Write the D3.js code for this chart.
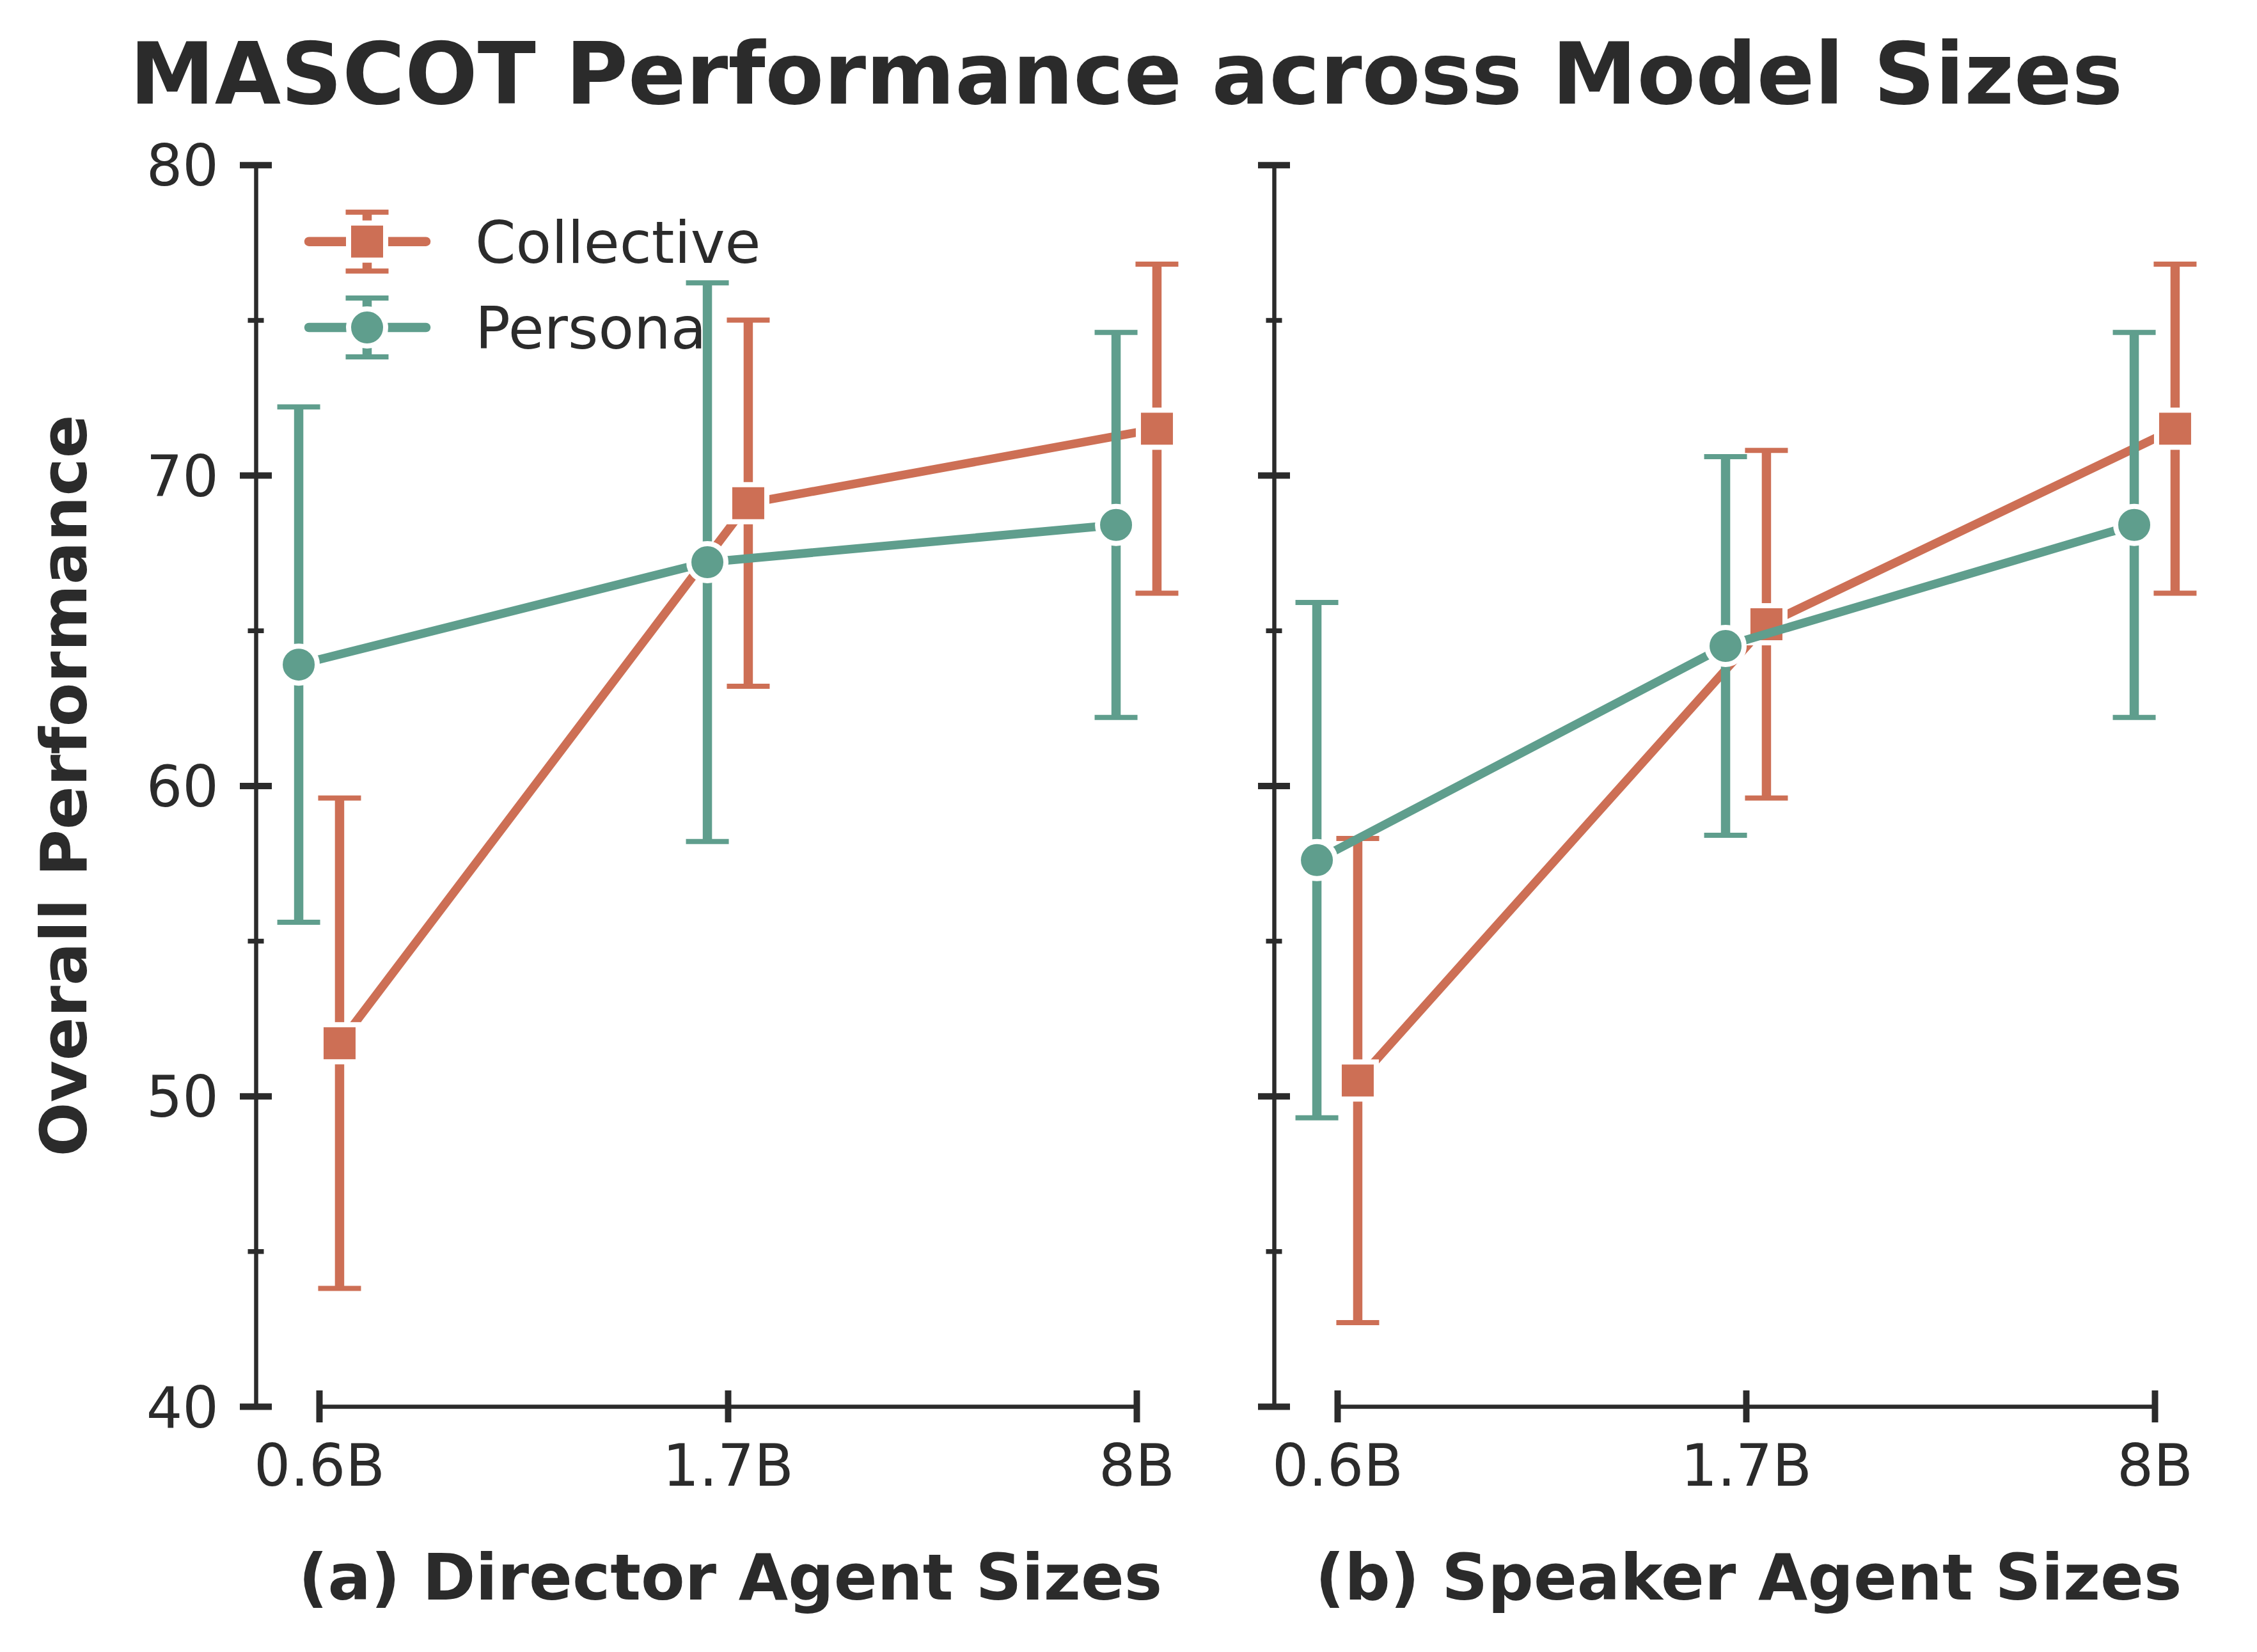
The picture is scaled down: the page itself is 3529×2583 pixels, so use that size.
<!DOCTYPE html>
<html>
<head>
<meta charset="utf-8">
<script src="https://cdn.jsdelivr.net/npm/d3@7"></script>
<style>
  html, body { margin: 0; padding: 0; background: #ffffff; }
  svg { display: block; }
  text { font-family: "DejaVu Sans", sans-serif; fill: #2b2b2b; }
</style>
</head>
<body>
<script>
// ---------------- data ----------------
const categories = ["0.6B", "1.7B", "8B"];
const seriesNames = ["Collective", "Persona"];
const yTicksMajor = [40, 50, 60, 70, 80];
const yTicksMinor = [45, 55, 65, 75];
const titleText = "MASCOT Performance across Model Sizes";
const yLabelText = "Overall Performance";
const panelLabels = ["(a) Director Agent Sizes", "(b) Speaker Agent Sizes"];

// (a) Director agent sizes
const directorCollectiveMean = [51.7, 69.1, 71.5];
const directorCollectiveLow  = [43.8, 63.2, 66.2];
const directorCollectiveHigh = [59.6, 75.0, 76.8];
const directorPersonaMean = [63.9, 67.2, 68.4];
const directorPersonaLow  = [55.6, 58.2, 62.2];
const directorPersonaHigh = [72.2, 76.2, 74.6];

// (b) Speaker agent sizes
const speakerCollectiveMean = [50.5, 65.2, 71.5];
const speakerCollectiveLow  = [42.7, 59.6, 66.2];
const speakerCollectiveHigh = [58.3, 70.8, 76.8];
const speakerPersonaMean = [57.6, 64.5, 68.4];
const speakerPersonaLow  = [49.3, 58.4, 62.2];
const speakerPersonaHigh = [65.9, 70.6, 74.6];

// ---------------- style ----------------
const W = 3529, H = 2583;
const colors = { Collective: "#cd6f55", Persona: "#5f9e8d" };
const shapes = { Collective: "square", Persona: "circle" };
const dodge = { Collective: 0.05, Persona: -0.05 };
const textColor = "#2b2b2b";

const panels = [
  { label: panelLabels[0], axisX: 400, xRange: [499, 1777],
    series: [
      { name: "Collective", mean: directorCollectiveMean, low: directorCollectiveLow, high: directorCollectiveHigh },
      { name: "Persona", mean: directorPersonaMean, low: directorPersonaLow, high: directorPersonaHigh }
    ] },
  { label: panelLabels[1], axisX: 1992, xRange: [2091, 3369],
    series: [
      { name: "Collective", mean: speakerCollectiveMean, low: speakerCollectiveLow, high: speakerCollectiveHigh },
      { name: "Persona", mean: speakerPersonaMean, low: speakerPersonaLow, high: speakerPersonaHigh }
    ] }
];

const svg = d3.select("body").append("svg")
  .attr("width", W).attr("height", H)
  .attr("viewBox", `0 0 ${W} ${H}`);

svg.append("rect").attr("width", W).attr("height", H).attr("fill", "#fff");

const y = d3.scaleLinear().domain([40, 80]).range([2199, 257.8]);

// title
svg.append("text")
  .attr("x", 1761).attr("y", 162)
  .attr("text-anchor", "middle")
  .attr("font-size", 133.5).attr("font-weight", "bold")
  .text(titleText);

// y label
svg.append("text")
  .attr("transform", `translate(135,${(y(40) + y(80)) / 2}) rotate(-90)`)
  .attr("text-anchor", "middle")
  .attr("font-size", 100).attr("font-weight", "bold")
  .text(yLabelText);

function drawMarker(g, shape, cx, cy, color) {
  if (shape === "square") {
    g.append("rect")
      .attr("x", cx - 29).attr("y", cy - 29)
      .attr("width", 58).attr("height", 58)
      .attr("fill", color).attr("stroke", "#fff").attr("stroke-width", 8);
  } else {
    g.append("circle")
      .attr("cx", cx).attr("cy", cy).attr("r", 29)
      .attr("fill", color).attr("stroke", "#fff").attr("stroke-width", 8);
  }
}

function drawErrorBar(g, cx, yLo, yHi, color, capW) {
  g.append("line")
    .attr("x1", cx).attr("x2", cx).attr("y1", yLo).attr("y2", yHi)
    .attr("stroke", color).attr("stroke-width", 14.5);
  [yLo, yHi].forEach(v => {
    g.append("line")
      .attr("x1", cx - capW / 2).attr("x2", cx + capW / 2)
      .attr("y1", v).attr("y2", v)
      .attr("stroke", color).attr("stroke-width", 8);
  });
}

panels.forEach((p, pi) => {
  const x = d3.scalePoint().domain(categories).range(p.xRange);
  const step = x.step();
  const g = svg.append("g");

  // y axis major
  const yAxisG = g.append("g").attr("transform", `translate(${p.axisX},0)`)
    .call(d3.axisLeft(y).tickValues(yTicksMajor).tickSize(25).tickSizeOuter(0)
      .tickPadding(33).tickFormat(pi === 0 ? d3.format("d") : () => ""));
  yAxisG.select(".domain").attr("stroke", textColor).attr("stroke-width", 6.5);
  yAxisG.selectAll(".tick line").attr("x1", 25).attr("stroke", textColor).attr("stroke-width", 10);
  yAxisG.selectAll(".tick text").attr("font-size", 89).attr("dy", "0.36em")
    .attr("font-family", "DejaVu Sans").attr("fill", textColor);

  // y axis minor
  const yMinorG = g.append("g").attr("transform", `translate(${p.axisX},0)`)
    .call(d3.axisLeft(y).tickValues(yTicksMinor).tickSize(12.5).tickSizeOuter(0).tickFormat(() => ""));
  yMinorG.select(".domain").remove();
  yMinorG.selectAll(".tick line").attr("x1", 12.5).attr("stroke", textColor).attr("stroke-width", 7.5);

  // x axis
  const xAxisG = g.append("g").attr("transform", `translate(0,${y(40)})`)
    .call(d3.axisBottom(x).tickSize(25).tickSizeOuter(0).tickPadding(35));
  xAxisG.select(".domain").attr("stroke", textColor).attr("stroke-width", 6.5);
  xAxisG.selectAll(".tick line").attr("y1", -25).attr("stroke", textColor).attr("stroke-width", 10);
  xAxisG.selectAll(".tick text").attr("font-size", 90)
    .attr("font-family", "DejaVu Sans").attr("fill", textColor);

  // panel label
  g.append("text")
    .attr("x", x(categories[1]) + 4).attr("y", 2501)
    .attr("text-anchor", "middle")
    .attr("font-size", 100).attr("font-weight", "bold")
    .text(p.label);

  // series
  p.series.forEach(s => {
    const color = colors[s.name];
    const sg = g.append("g");
    const px = i => x(categories[i]) + dodge[s.name] * step;
    categories.forEach((c, i) => {
      drawErrorBar(sg, px(i), y(s.low[i]), y(s.high[i]), color, 67);
    });
    const line = d3.line().x((d, i) => px(i)).y(d => y(d));
    sg.append("path").datum(s.mean)
      .attr("d", line)
      .attr("fill", "none").attr("stroke", color)
      .attr("stroke-width", 13.5).attr("stroke-linejoin", "round").attr("stroke-linecap", "round");
    s.mean.forEach((v, i) => drawMarker(sg, shapes[s.name], px(i), y(v), color));
  });
});

// legend
const legendRows = [377.7, 512];
seriesNames.forEach((name, i) => {
  const color = colors[name];
  const lg = svg.append("g");
  const cy = legendRows[i];
  const cx = 574;
  lg.append("line")
    .attr("x1", 483).attr("x2", 666).attr("y1", cy).attr("y2", cy)
    .attr("stroke", color).attr("stroke-width", 14.5).attr("stroke-linecap", "round");
  drawErrorBar(lg, cx, cy + 46, cy - 46, color, 67);
  drawMarker(lg, shapes[name], cx, cy, color);
  lg.append("text")
    .attr("x", 743).attr("y", cy + 33)
    .attr("font-size", 91)
    .text(name);
});
</script>
</body>
</html>
